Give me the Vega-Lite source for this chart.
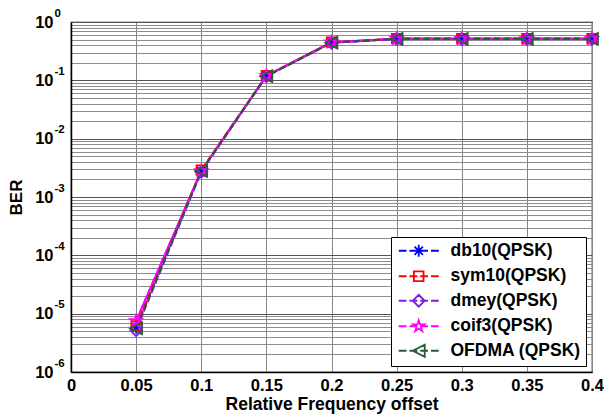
{
  "$schema": "https://vega.github.io/schema/vega-lite/v6.json",
  "width": 521,
  "height": 350,
  "autosize": "none",
  "padding": {"left": 71, "top": 22, "right": 12, "bottom": 44},
  "background": "white",
  "config": {
    "font": "Liberation Sans",
    "view": {"stroke": "black", "strokeWidth": 1.2},
    "axis": {"labelFont": "Liberation Sans", "titleFont": "Liberation Sans", "labelFontWeight": "bold", "titleFontWeight": "bold", "labelColor": "black", "titleColor": "black", "domainColor": "black", "domainWidth": 1.5, "ticks": false},
    "legend": {
      "orient": "bottom-right",
      "offset": 6,
      "padding": 5,
      "strokeColor": "black",
      "fillColor": "white",
      "labelFont": "Liberation Sans",
      "labelFontWeight": "bold",
      "labelFontSize": 17.5,
      "labelColor": "black",
      "symbolSize": 144,
      "symbolStrokeWidth": 1.8,
      "symbolOpacity": 1,
      "symbolFillColor": "transparent",
      "labelOffset": 37,
      "rowPadding": 5.5,
      "labelLimit": 300
    }
  },
  "resolve": {
    "axis": {"y": "independent"},
    "scale": {"shape": "independent"},
    "legend": {"color": "independent", "shape": "independent"}
  },
  "data": {"values": [
    {"series": "db10(QPSK)", "x": 0.05, "ber": 5.8e-6},
    {"series": "db10(QPSK)", "x": 0.1, "ber": 2.8e-3},
    {"series": "db10(QPSK)", "x": 0.15, "ber": 0.118},
    {"series": "db10(QPSK)", "x": 0.2, "ber": 0.44},
    {"series": "db10(QPSK)", "x": 0.25, "ber": 0.515},
    {"series": "db10(QPSK)", "x": 0.3, "ber": 0.515},
    {"series": "db10(QPSK)", "x": 0.35, "ber": 0.515},
    {"series": "db10(QPSK)", "x": 0.4, "ber": 0.515},
    {"series": "sym10(QPSK)", "x": 0.05, "ber": 6.2e-6},
    {"series": "sym10(QPSK)", "x": 0.1, "ber": 2.9e-3},
    {"series": "sym10(QPSK)", "x": 0.15, "ber": 0.12},
    {"series": "sym10(QPSK)", "x": 0.2, "ber": 0.45},
    {"series": "sym10(QPSK)", "x": 0.25, "ber": 0.52},
    {"series": "sym10(QPSK)", "x": 0.3, "ber": 0.52},
    {"series": "sym10(QPSK)", "x": 0.35, "ber": 0.52},
    {"series": "sym10(QPSK)", "x": 0.4, "ber": 0.52},
    {"series": "dmey(QPSK)", "x": 0.05, "ber": 5.2e-6},
    {"series": "dmey(QPSK)", "x": 0.1, "ber": 2.7e-3},
    {"series": "dmey(QPSK)", "x": 0.15, "ber": 0.117},
    {"series": "dmey(QPSK)", "x": 0.2, "ber": 0.44},
    {"series": "dmey(QPSK)", "x": 0.25, "ber": 0.51},
    {"series": "dmey(QPSK)", "x": 0.3, "ber": 0.51},
    {"series": "dmey(QPSK)", "x": 0.35, "ber": 0.51},
    {"series": "dmey(QPSK)", "x": 0.4, "ber": 0.51},
    {"series": "coif3(QPSK)", "x": 0.05, "ber": 7.5e-6},
    {"series": "coif3(QPSK)", "x": 0.1, "ber": 2.8e-3},
    {"series": "coif3(QPSK)", "x": 0.15, "ber": 0.12},
    {"series": "coif3(QPSK)", "x": 0.2, "ber": 0.45},
    {"series": "coif3(QPSK)", "x": 0.25, "ber": 0.515},
    {"series": "coif3(QPSK)", "x": 0.3, "ber": 0.515},
    {"series": "coif3(QPSK)", "x": 0.35, "ber": 0.515},
    {"series": "coif3(QPSK)", "x": 0.4, "ber": 0.515},
    {"series": "OFDMA (QPSK)", "x": 0.05, "ber": 5.6e-6},
    {"series": "OFDMA (QPSK)", "x": 0.1, "ber": 2.8e-3},
    {"series": "OFDMA (QPSK)", "x": 0.15, "ber": 0.118},
    {"series": "OFDMA (QPSK)", "x": 0.2, "ber": 0.445},
    {"series": "OFDMA (QPSK)", "x": 0.25, "ber": 0.515},
    {"series": "OFDMA (QPSK)", "x": 0.3, "ber": 0.515},
    {"series": "OFDMA (QPSK)", "x": 0.35, "ber": 0.515},
    {"series": "OFDMA (QPSK)", "x": 0.4, "ber": 0.515}
  ]},
  "encoding": {
    "x": {
      "field": "x", "type": "quantitative",
      "scale": {"domain": [0, 0.4], "nice": false, "zero": false},
      "axis": {
        "title": "Relative Frequency offset",
        "values": [0, 0.05, 0.1, 0.15, 0.2, 0.25, 0.3, 0.35, 0.4],
        "format": "~g",
        "labelFontSize": 16.5,
        "titleFontSize": 17.5,
        "labelPadding": 5,
        "titlePadding": 2,
        "labelFlush": false,
        "labelOverlap": false,
        "grid": true,
        "gridColor": "#858585",
        "gridWidth": 1
      }
    },
    "y": {
      "field": "ber", "type": "quantitative",
      "scale": {"type": "log", "domain": [1e-6, 1], "nice": false},
      "axis": null
    },
    "color": {
      "field": "series", "type": "nominal",
      "scale": {
        "domain": ["db10(QPSK)", "sym10(QPSK)", "dmey(QPSK)", "coif3(QPSK)", "OFDMA (QPSK)"],
        "range": ["#0000ff", "#ff0000", "#7f1fe6", "#ff00ff", "#2b5a3d"]
      },
      "legend": null
    }
  },
  "layer": [
    {
      "transform": [{"filter": "datum.series == 'coif3(QPSK)'"}],
      "mark": {"type": "line", "strokeWidth": 2}
    },
    {
      "mark": {"type": "line", "strokeWidth": 2, "strokeDash": [7, 3]},
      "encoding": {
        "y": {
          "field": "ber", "type": "quantitative",
          "scale": {"type": "log", "domain": [1e-6, 1], "nice": false},
          "axis": {
            "orient": "left",
            "title": null,
            "domain": false,
            "grid": false,
            "values": [1e-6, 1e-5, 1e-4, 1e-3, 1e-2, 0.1, 1],
            "labelExpr": "datum.value == 1 ? '0' : datum.value == 0.1 ? '-1' : datum.value == 0.01 ? '-2' : datum.value == 0.001 ? '-3' : datum.value == 0.0001 ? '-4' : datum.value == 0.00001 ? '-5' : '-6'",
            "labelFontSize": 11.5,
            "labelAlign": "left",
            "labelBaseline": "middle",
            "labelPadding": 17,
            "labelOffset": -9,
            "labelOverlap": false,
            "labelFlush": false
          }
        }
      }
    },
    {
      "mark": {"type": "point", "filled": false, "strokeWidth": 1.8, "size": 140, "opacity": 1},
      "encoding": {
        "y": {
          "field": "ber", "type": "quantitative",
          "scale": {"type": "log", "domain": [1e-6, 1], "nice": false},
          "axis": {
            "orient": "left",
            "title": "BER",
            "values": [1e-6, 2e-6, 3e-6, 4e-6, 5e-6, 6e-6, 7e-6, 8e-6, 9e-6,
                       1e-5, 2e-5, 3e-5, 4e-5, 5e-5, 6e-5, 7e-5, 8e-5, 9e-5,
                       1e-4, 2e-4, 3e-4, 4e-4, 5e-4, 6e-4, 7e-4, 8e-4, 9e-4,
                       1e-3, 2e-3, 3e-3, 4e-3, 5e-3, 6e-3, 7e-3, 8e-3, 9e-3,
                       1e-2, 2e-2, 3e-2, 4e-2, 5e-2, 6e-2, 7e-2, 8e-2, 9e-2,
                       0.1, 0.2, 0.3, 0.4, 0.5, 0.6, 0.7, 0.8, 0.9, 1],
            "labelExpr": "indexof([1,0.1,0.01,0.001,0.0001,0.00001,0.000001], datum.value) >= 0 ? '10' : ''",
            "labelFontSize": 16.5,
            "titleFontSize": 17,
            "labelPadding": 18,
            "titlePadding": 9,
            "labelOverlap": false,
            "labelFlush": false,
            "grid": true,
            "gridColor": {"condition": {"test": "indexof([1,0.1,0.01,0.001,0.0001,0.00001,0.000001], datum.value) >= 0", "value": "#555555"}, "value": "#8c8c8c"},
            "gridWidth": 1
          }
        },
        "shape": {
          "field": "series", "type": "nominal",
          "scale": {
            "domain": ["db10(QPSK)", "sym10(QPSK)", "dmey(QPSK)", "coif3(QPSK)", "OFDMA (QPSK)"],
            "range": [
              "M0,-1L0,1M-1,0L1,0M-0.7,-0.7L0.7,0.7M-0.7,0.7L0.7,-0.7",
              "M-0.8,-0.8L0.8,-0.8L0.8,0.8L-0.8,0.8Z",
              "M0,-1L1,0L0,1L-1,0Z",
              "M0,-1L0.2245,-0.309L0.951,-0.309L0.363,0.118L0.588,0.809L0,0.382L-0.588,0.809L-0.363,0.118L-0.951,-0.309L-0.2245,-0.309Z",
              "M-1,0L1,-1L1,1Z"
            ]
          },
          "legend": null
        }
      }
    },
    {
      "transform": [{"filter": "datum.x > 1"}],
      "mark": {"type": "point", "filled": false, "strokeWidth": 1.8, "size": 144},
      "encoding": {
        "color": {
          "field": "series", "type": "nominal",
          "scale": {
            "domain": ["db10(QPSK)", "sym10(QPSK)", "dmey(QPSK)", "coif3(QPSK)", "OFDMA (QPSK)"],
            "range": ["#0000ff", "#ff0000", "#7f1fe6", "#ff00ff", "#2b5a3d"]
          },
          "legend": {"title": null}
        },
        "shape": {
          "field": "series", "type": "nominal",
          "scale": {
            "domain": ["db10(QPSK)", "sym10(QPSK)", "dmey(QPSK)", "coif3(QPSK)", "OFDMA (QPSK)"],
            "range": [
              "M-1,0L0.29,0M0.79,0L2.08,0M2.58,0L3.87,0M4.37,0L5.67,0M2.33,-1L2.33,1M1.33,0L3.33,0M1.63,-0.7L3.03,0.7M1.63,0.7L3.03,-0.7",
              "M-1,0L0.29,0M0.79,0L2.08,0M2.58,0L3.87,0M4.37,0L5.67,0M1.53,-0.8L3.13,-0.8L3.13,0.8L1.53,0.8Z",
              "M-1,0L0.29,0M0.79,0L2.08,0M2.58,0L3.87,0M4.37,0L5.67,0M2.33,-1L3.33,0L2.33,1L1.33,0Z",
              "M-1,0L0.29,0M0.79,0L2.08,0M2.58,0L3.87,0M4.37,0L5.67,0M2.33,-1L2.5545,-0.309L3.281,-0.309L2.693,0.118L2.918,0.809L2.33,0.382L1.742,0.809L1.967,0.118L1.379,-0.309L2.1055,-0.309Z",
              "M-1,0L0.29,0M0.79,0L2.08,0M2.58,0L3.87,0M4.37,0L5.67,0M1.33,0L3.33,-1L3.33,1Z"
            ]
          },
          "legend": {"title": null}
        }
      }
    }
  ]
}
